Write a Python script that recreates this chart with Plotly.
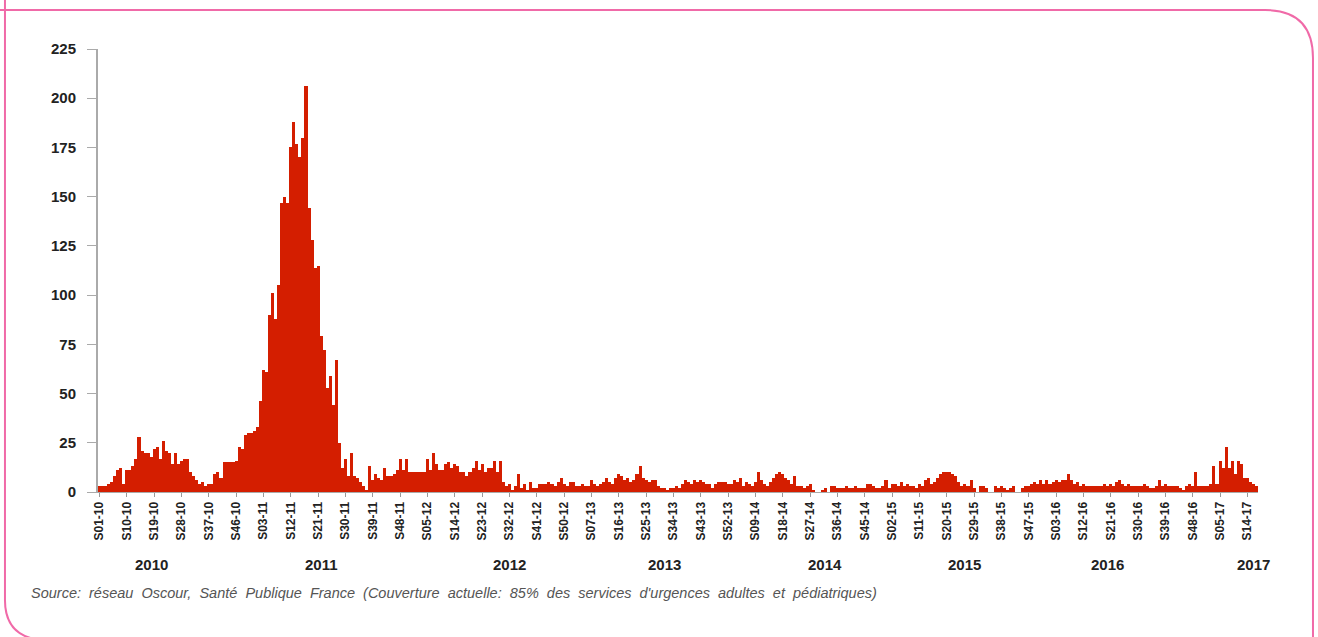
import plotly.graph_objects as go

# nombre hebdomadaire de passages (réseau Oscour), S01-10 -> S17-17
cas_2010 = [3, 3, 3, 4, 5, 8, 11, 12, 4, 11, 11, 13, 17, 28, 21, 20, 20, 18, 22, 23,
            17, 26, 21, 20, 14, 20, 14, 16, 17, 17, 10, 8, 6, 4, 5, 3, 4, 4, 9, 10,
            7, 15, 15, 15, 15, 16, 23, 22, 29, 30, 30, 31]
cas_2011 = [33, 46, 62, 61, 90, 101, 88, 105, 147, 150, 147, 175, 188, 177, 170, 180, 206, 144, 128, 114,
            115, 79, 72, 53, 59, 44, 67, 25, 12, 17, 8, 20, 8, 7, 5, 3, 1, 13, 6, 9,
            7, 6, 12, 8, 8, 9, 11, 17, 11, 17, 10, 10]
cas_2012 = [10, 10, 10, 10, 17, 11, 20, 14, 11, 11, 14, 15, 12, 14, 13, 10, 10, 8, 10, 12,
            16, 11, 14, 10, 12, 12, 16, 10, 16, 5, 3, 4, 1, 3, 9, 2, 4, 1, 5, 2,
            2, 4, 4, 4, 5, 4, 3, 5, 7, 4, 3, 5]
cas_2013 = [5, 3, 3, 4, 3, 3, 6, 4, 3, 4, 5, 7, 5, 4, 7, 9, 8, 6, 7, 5,
            6, 9, 13, 7, 6, 5, 6, 6, 3, 2, 2, 1, 2, 2, 3, 2, 4, 6, 5, 4,
            6, 5, 6, 5, 4, 4, 2, 4, 5, 5, 5, 4]
cas_2014 = [4, 6, 5, 7, 3, 5, 4, 3, 5, 10, 6, 4, 3, 5, 7, 9, 10, 9, 7, 6,
            4, 8, 3, 3, 2, 3, 4, 1, 0, 0, 1, 2, 0, 3, 3, 2, 2, 2, 3, 2,
            2, 3, 2, 2, 2, 4, 4, 3, 2, 2, 3, 6]
cas_2015 = [2, 4, 4, 3, 5, 3, 4, 3, 3, 2, 4, 3, 6, 7, 4, 5, 7, 9, 10, 10,
            10, 9, 8, 5, 3, 4, 3, 6, 2, 0, 3, 3, 2, 0, 0, 3, 2, 3, 2, 1,
            2, 3, 0, 0, 2, 3, 3, 4, 5, 4, 6, 4, 6]
cas_2016 = [4, 5, 6, 5, 6, 6, 9, 6, 4, 5, 3, 4, 3, 3, 3, 3, 3, 3, 4, 3,
            4, 3, 5, 6, 4, 3, 4, 3, 3, 3, 3, 4, 3, 2, 2, 3, 6, 3, 4, 3,
            3, 3, 3, 2, 1, 3, 4, 3, 10, 3, 3, 3]
cas_2017 = [3, 4, 13, 4, 16, 12, 23, 12, 16, 9, 16, 14, 7, 7, 5, 4, 3]

annees = ["2010", "2011", "2012", "2013", "2014", "2015", "2016", "2017"]
series = [cas_2010, cas_2011, cas_2012, cas_2013, cas_2014, cas_2015, cas_2016, cas_2017]

# libellés de semaines S01-10 ...
semaines = []
valeurs = []
for annee, vals in zip(annees, series):
    for k, v in enumerate(vals):
        semaines.append("S%02d-%s" % (k + 1, annee[2:]))
        valeurs.append(v)

tick_semaines = semaines[::9]

# position (semaine) des libellés d'années sous l'axe
annee_pos = {"2010": "S18-10", "2011": "S22-11", "2012": "S32-12", "2013": "S31-13",
             "2014": "S32-14", "2015": "S26-15", "2016": "S20-16", "2017": "S16-17"}

source = ("Source: réseau Oscour, Santé Publique France (Couverture actuelle: "
          "85% des services d'urgences adultes et pédiatriques)")

ROUGE = "#D41E00"
ROSE = "#F06AA8"

W, H = 1318, 637
L, R, T, B = 98, 60, 49, 145


def px(x, y):
    """pixels -> coordonnées paper"""
    return (x - L) / (W - L - R), (H - B - y) / (H - T - B)


def path(points):
    out = []
    for cmd, pts in points:
        coords = " ".join("%.4f,%.4f" % px(*p) for p in pts)
        out.append(cmd + coords)
    return " ".join(out)


fig = go.Figure()
fig.add_trace(go.Bar(
    x=semaines,
    y=valeurs,
    marker=dict(color=ROUGE, line=dict(width=0)),
    hovertemplate="%{x}: %{y}<extra></extra>",
))

annotations = [
    dict(text="<b>%s</b>" % a, x=annee_pos[a], y=px(0, 564)[1], xref="x", yref="paper",
         showarrow=False, font=dict(size=15, color="#222"), xanchor="center", yanchor="middle")
    for a in annees
]
annotations.append(dict(
    text="<i>%s</i>" % source.replace(" ", "\u00a0 "),
    x=px(29, 0)[0], y=px(0, 593)[1], xref="paper", yref="paper", showarrow=False,
    xanchor="left", yanchor="middle", font=dict(size=14.5, color="#555"),
))

shapes = [
    dict(type="path", xref="paper", yref="paper",
         path=path([("M", [(0, 10)]), ("L", [(1265, 10)]), ("Q", [(1313, 10), (1313, 58)]),
                    ("L", [(1313, 640)])]),
         line=dict(color=ROSE, width=2)),
    dict(type="path", xref="paper", yref="paper",
         path=path([("M", [(5, 0)]), ("L", [(5, 600)]), ("Q", [(5, 637), (42, 640)])]),
         line=dict(color=ROSE, width=2)),
]

fig.update_layout(
    width=W, height=H,
    margin=dict(l=L, r=R, t=T, b=B),
    paper_bgcolor="white", plot_bgcolor="white",
    font=dict(family="Arial, Liberation Sans, sans-serif", color="#222"),
    bargap=0,
    showlegend=False,
    annotations=annotations,
    shapes=shapes,
)
fig.update_xaxes(
    type="category",
    range=[-0.5, len(semaines) - 0.5],
    tickmode="array", tickvals=tick_semaines,
    ticktext=["<b>%s</b>" % s for s in tick_semaines],
    tickangle=-90, tickfont=dict(size=12, color="#222"),
    ticks="outside", ticklen=4, tickcolor="#999",
    showline=True, linecolor="#aaa", linewidth=1,
    showgrid=False, zeroline=False,
)
fig.update_yaxes(
    range=[0, 225], tickmode="array", tickvals=list(range(0, 226, 25)),
    ticktext=["<b>%d</b>" % v for v in range(0, 226, 25)],
    tickfont=dict(size=15, color="#222"),
    ticks="outside", ticklen=9, tickcolor="#aaa", ticklabelstandoff=8,
    showline=True, linecolor="#aaa", linewidth=2,
    showgrid=False, zeroline=False,
)

# la page n'a pas de marge : la figure occupe toute la fenêtre
fig.write_html("out.html", config={"displayModeBar": False},
               post_script="document.body.style.margin='0';")
